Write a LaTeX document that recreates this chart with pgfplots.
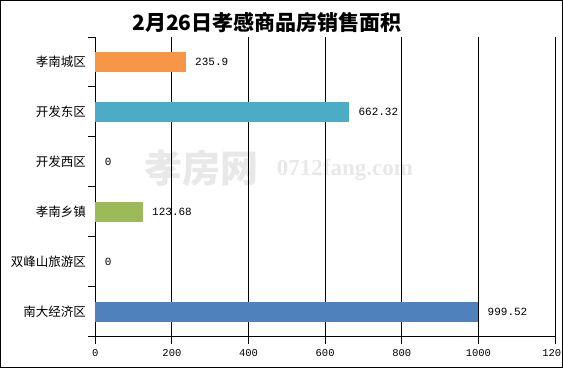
\documentclass[border=0pt]{standalone}
\usepackage{pgfplots}
\pgfplotsset{compat=1.18}
\usepackage{fontspec}
\newfontfamily\cjk{Noto Sans CJK SC}
\newfontfamily\mono{Liberation Mono}
\newfontfamily\wserif{Liberation Serif}
\definecolor{corange}{HTML}{F79646}
\definecolor{cteal}{HTML}{4BACC6}
\definecolor{cgreen}{HTML}{9BBB59}
\definecolor{cblue}{HTML}{4F81BD}
\begin{document}
\begin{tikzpicture}[x=1pt,y=1pt]
% watermark
\node[text=black!9, font=\cjk\bfseries\fontsize{38}{40}\selectfont, inner sep=0] at (201,200) {孝房网};
\node[text=black!9, font=\wserif\bfseries\fontsize{23}{25}\selectfont, inner sep=0] at (345,198) {0712fang.com};
% title
\node[font=\cjk\bfseries\fontsize{21}{24}\selectfont, inner sep=0] at (267,345) {2月26日孝感商品房销售面积};
\begin{axis}[
  at={(95.3pt,31.3pt)}, anchor=south west, scale only axis,
  width=459.7pt, height=299.7pt,
  xmin=0, xmax=1200, ymin=-0.5, ymax=5.5, y dir=reverse,
  axis x line*=bottom, axis y line*=left,
  axis line style={black, line width=1pt},
  xtick={0,200,...,1200},
  ytick={-0.5,0.5,1.5,2.5,3.5,4.5,5.5},
  y tick label as interval,
  yticklabels={孝南城区,开发东区,开发西区,孝南乡镇,双峰山旅游区,南大经济区},
  tick align=outside, major tick length=7pt,
  tick style={black, line width=1pt},
  xmajorgrids=true, ymajorgrids=false,
  grid style={black, line width=1pt},
  /pgf/number format/assume math mode=true,
  /pgf/number format/1000 sep={},
  xticklabel style={font=\mono\fontsize{10.5}{12}\selectfont, yshift=-2pt},
  yticklabel style={font=\cjk\fontsize{12.5}{14}\selectfont, xshift=1pt},
  point meta=explicit symbolic,
  nodes near coords,
  every node near coord/.append style={font=\mono\fontsize{11}{12}\selectfont, anchor=west, xshift=6pt, text=black},
  xbar, bar width=20pt, bar shift=0pt,
  clip=false,
]
\addplot[draw=none, fill=corange] coordinates {(235.9,0) [235.9]};
\addplot[draw=none, fill=cteal] coordinates {(662.32,1) [662.32]};
\addplot[draw=none, fill=none] coordinates {(0,2) [0]};
\addplot[draw=none, fill=cgreen] coordinates {(123.68,3) [123.68]};
\addplot[draw=none, fill=none] coordinates {(0,4) [0]};
\addplot[draw=none, fill=cblue] coordinates {(999.52,5) [999.52]};
\end{axis}
\pgfresetboundingbox
\draw[black, line width=1pt] (0.5,0.5) rectangle (562.5,367.5);
\useasboundingbox (0,0) rectangle (563,368);
\end{tikzpicture}
\end{document}
